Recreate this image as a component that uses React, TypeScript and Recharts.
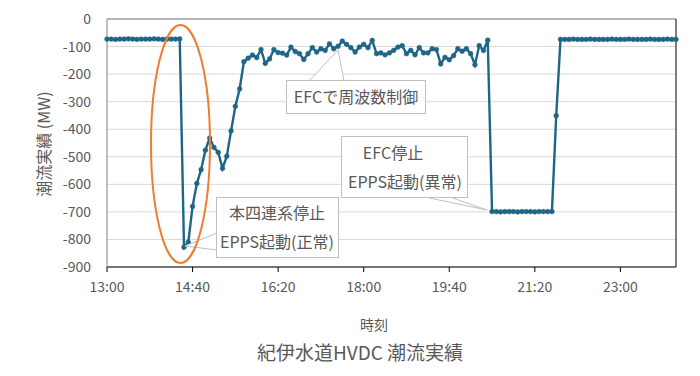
import React from 'react';
import { LineChart, Line, XAxis, YAxis, CartesianGrid, ReferenceLine } from 'recharts';

// 5-minute samples starting at 13:00
const START_MIN = 13 * 60;
const STEP_MIN = 5;

// 13:00 - 14:25 normal operation
const beforeTrip = [-73, -73, -74, -73, -73, -72, -73, -74, -73, -73, -73, -72, -73, -74, -73, -73, -73, -72];
// 14:30 - 16:35 trip, EPPS start, recovery
const tripRecovery = [
  -828, -810, -680, -597, -547, -476, -432, -466, -484, -542, -498, -406, -317,
  -254, -155, -142, -131, -140, -111, -161, -145, -111, -122, -124, -131, -102,
];
// 16:40 - 20:25 frequency control by EFC
const efcControl = [
  -118, -126, -147, -126, -104, -120, -108, -114, -90, -108, -99, -80, -92, -104, -120, -102,
  -92, -104, -78, -126, -123, -130, -123, -114, -102, -97, -126, -114, -130, -104, -123, -123,
  -108, -111, -163, -139, -148, -133, -108, -117, -108, -126, -166, -97, -114, -77,
];
// 20:30 - 21:40 EFC stopped, EPPS start (abnormal)
const efcStop = [-699, -699, -700, -699, -699, -699, -700, -699, -699, -699, -700, -699, -699, -699, -699];
// 21:45 - 24:05 restored
const restored = [
  -351, -74, -74, -74, -73, -74, -74, -74, -73, -74, -74, -74, -74, -73, -74,
  -74, -74, -73, -74, -74, -74, -74, -73, -74, -74, -74, -73, -74, -74,
];

const flowMW = [...beforeTrip, ...tripRecovery, ...efcControl, ...efcStop, ...restored];
const data = flowMW.map((v, i) => ({ t: START_MIN + i * STEP_MIN, mw: v }));

const xTicks = [780, 880, 980, 1080, 1180, 1280, 1380];
const yTicks = [0, -100, -200, -300, -400, -500, -600, -700, -800, -900];
const X_MAX = 1445;

const FONT = "'Noto Sans CJK JP', 'Noto Sans', sans-serif";
const TEXT = '#595959';
const LINE = '#1E6586';

const fmtTime = (m: number) => `${Math.floor(m / 60)}:${String(m % 60).padStart(2, '0')}`;

const XTick = (props: any) => {
  const { x, y, payload } = props;
  return (
    <text x={x} y={y} dy="0.71em" textAnchor="middle" fill={TEXT} fontSize={14} fontFamily={FONT}>
      {fmtTime(payload.value)}
    </text>
  );
};

const YTick = (props: any) => {
  const { x, y, payload } = props;
  return (
    <text x={x} y={y} dy="0.36em" textAnchor="end" fill={TEXT} fontSize={14} fontFamily={FONT}>
      {payload.value}
    </text>
  );
};

const Callout = ({ box, lines, wedge }: { box: number[]; lines: { text: string; x: number; y: number }[]; wedge: number[][] }) => (
  <g>
    <polygon points={wedge.map((p) => p.join(',')).join(' ')} fill="#fff" stroke="#BFBFBF" strokeWidth={1} />
    <rect x={box[0]} y={box[1]} width={box[2]} height={box[3]} fill="#fff" stroke="#BFBFBF" strokeWidth={1} />
    {lines.map((l, i) => (
      <text key={i} x={l.x} y={l.y} dy="0.36em" textAnchor="middle" fill={TEXT} fontSize={16} fontFamily={FONT}>
        {l.text}
      </text>
    ))}
  </g>
);

export default function App() {
  return (
    <div style={{ position: 'absolute', left: 0, top: 0, width: 700, height: 376, background: '#fff' }}>
      <LineChart width={700} height={376} data={data} margin={{ top: 19, right: 24, bottom: 79, left: 0 }}>
        <CartesianGrid vertical={false} stroke="#D9D9D9" />
        <XAxis
          dataKey="t"
          type="number"
          domain={[START_MIN, X_MAX]}
          ticks={xTicks}
          height={30}
          tickSize={5}
          tickMargin={10}
          axisLine={{ stroke: '#000' }}
          tickLine={{ stroke: '#000' }}
          tick={<XTick />}
        />
        <YAxis
          type="number"
          domain={[-900, 0]}
          ticks={yTicks}
          width={107}
          tickSize={6}
          tickMargin={10}
          tickLine={false}
          axisLine={{ stroke: '#808080' }}
          tick={<YTick />}
        />
        <ReferenceLine y={0} stroke="#808080" />
        <ReferenceLine x={X_MAX} stroke="#000" />
        <Line
          type="linear"
          dataKey="mw"
          stroke={LINE}
          strokeWidth={2.4}
          dot={{ r: 2.4, fill: LINE, stroke: LINE, strokeWidth: 0.5 }}
          isAnimationActive={false}
        />
      </LineChart>
      <svg width={700} height={376} style={{ position: 'absolute', left: 0, top: 0, pointerEvents: 'none' }}>
        <text
          transform="translate(44,144) rotate(-90)"
          textAnchor="middle"
          dy="0.36em"
          fill={TEXT}
          fontSize={16}
          fontFamily={FONT}
        >
          潮流実績 (MW)
        </text>
        <text x={374} y={325} dy="0.36em" textAnchor="middle" fill={TEXT} fontSize={14} fontFamily={FONT}>
          時刻
        </text>
        <text x={360} y={353} dy="0.36em" textAnchor="middle" fill={TEXT} fontSize={19} fontFamily={FONT}>
          紀伊水道HVDC 潮流実績
        </text>
        <Callout
          box={[286.5, 80.5, 139, 33]}
          lines={[{ text: 'EFCで周波数制御', x: 356, y: 97 }]}
          wedge={[[309, 81], [338, 50], [344, 81]]}
        />
        <Callout
          box={[341.5, 136.5, 126, 61]}
          lines={[
            { text: 'EFC停止', x: 393, y: 153 },
            { text: 'EPPS起動(異常)', x: 405, y: 182 },
          ]}
          wedge={[[420, 196], [487, 210], [447, 196]]}
        />
        <Callout
          box={[216.5, 197.5, 122, 60]}
          lines={[
            { text: '本四連系停止', x: 277, y: 213 },
            { text: 'EPPS起動(正常)', x: 277, y: 242 },
          ]}
          wedge={[[217, 233], [185, 246], [217, 250]]}
        />
        <ellipse cx={180.5} cy={144} rx={29.5} ry={119} fill="none" stroke="#ED7D31" strokeWidth={2} />
      </svg>
    </div>
  );
}
